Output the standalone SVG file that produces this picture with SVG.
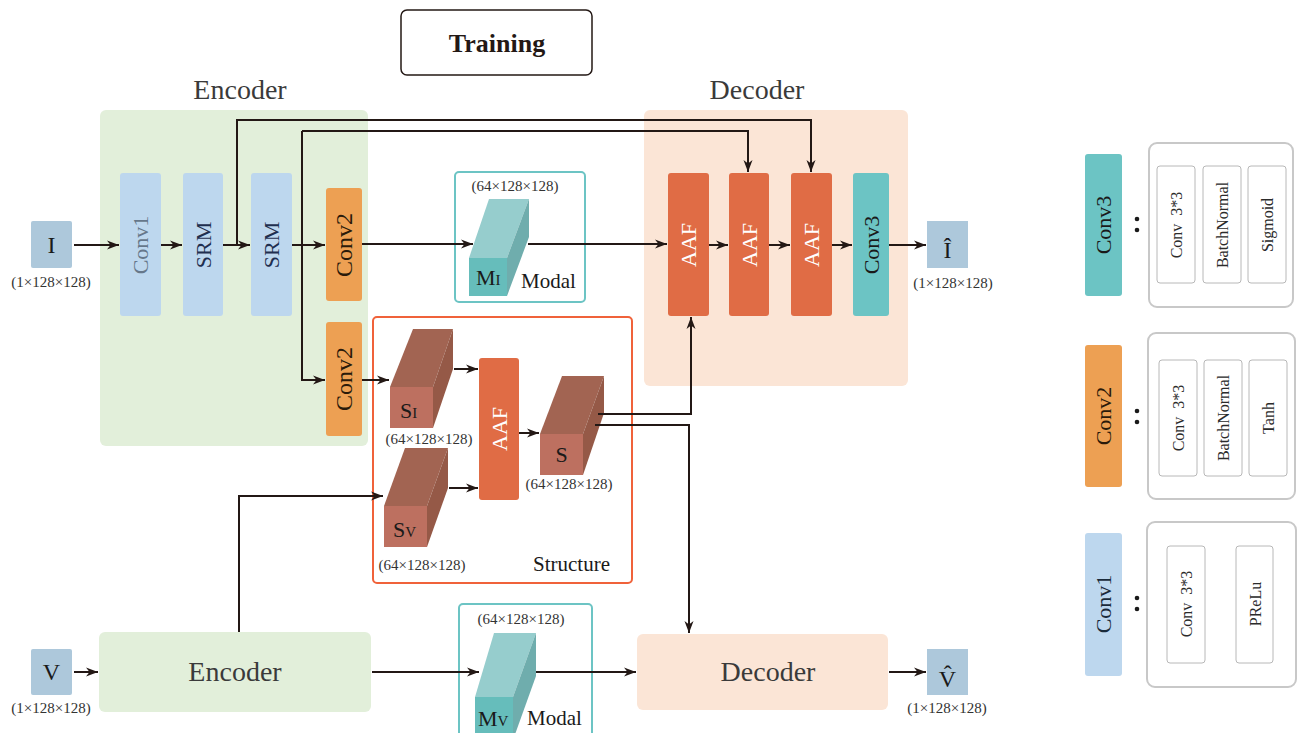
<svg xmlns="http://www.w3.org/2000/svg" width="1300" height="733" viewBox="0 0 1300 733">
<style>
text{font-family:"Liberation Serif","Times New Roman",serif}
.dim{font-size:15px;fill:#333333}
.big{font-size:28px;fill:#3a3a3a}
.blk{font-size:22px}
.dk{fill:#1a1a1a}
.c1{fill:#bdd7ee}
.c2{fill:#eda053}
.c3{fill:#6cc4c4}
.aaf{fill:#e06c45}
.io{fill:#adc8db}
.ln{fill:none;stroke:#231815;stroke-width:2}
.arr{marker-end:url(#ah)}
.wt{fill:#ffffff}
.leg{fill:none;stroke:#c8c8c8;stroke-width:2}
.inb{fill:#fff;stroke:#b8b8b8;stroke-width:1}
.lt{font-size:16px;fill:#2b2b2b}
</style>
<defs>
<marker id="ah" markerUnits="userSpaceOnUse" markerWidth="14" markerHeight="10" refX="12" refY="5" orient="auto">
<path d="M0,0.5 L12,5 L0,9.5 L3.5,5 z" fill="#231815"/>
</marker>
</defs>

<g id="training">
<rect x="401" y="10" width="191" height="65" rx="6" fill="#fff" stroke="#231815" stroke-width="1.5"/>
<text x="497" y="52" text-anchor="middle" font-size="26" font-weight="bold" fill="#231815">Training</text>
</g>

<g id="encoder-bg">
<rect x="100" y="110" width="268" height="336" rx="6" fill="#e2efda"/>
<text x="240" y="99" class="big" text-anchor="middle">Encoder</text>
</g>
<g id="decoder-bg">
<rect x="644" y="110" width="264" height="276" rx="6" fill="#fbe5d6"/>
<text x="757" y="99" class="big" text-anchor="middle">Decoder</text>
</g>

<g id="input-I">
<rect x="31" y="221" width="41" height="47" rx="2" class="io"/>
<text x="51.5" y="253" font-size="24" text-anchor="middle" class="dk">I</text>
<text x="51" y="287" class="dim" text-anchor="middle">(1×128×128)</text>
</g>

<g id="conv1">
<rect x="120" y="173" width="41" height="143" rx="3" class="c1"/>
<text transform="translate(148,245) rotate(-90)" class="blk" text-anchor="middle" fill="#66778a">Conv1</text>
</g>
<g id="srm1">
<rect x="183" y="173" width="40" height="143" rx="3" class="c1"/>
<text transform="translate(211,245) rotate(-90)" class="blk" text-anchor="middle" fill="#1f2f4f">SRM</text>
</g>
<g id="srm2">
<rect x="251" y="173" width="41" height="143" rx="3" class="c1"/>
<text transform="translate(279,245) rotate(-90)" class="blk" text-anchor="middle" fill="#1f2f4f">SRM</text>
</g>
<g id="conv2-top">
<rect x="326" y="188" width="36" height="113" rx="3" class="c2"/>
<text transform="translate(352,245) rotate(-90)" font-size="24" text-anchor="middle" fill="#2a1a0a">Conv2</text>
</g>
<g id="conv2-bottom">
<rect x="326" y="322" width="36" height="114" rx="3" class="c2"/>
<text transform="translate(352,379) rotate(-90)" font-size="24" text-anchor="middle" fill="#2a1a0a">Conv2</text>
</g>

<g id="modal-I">
<rect x="455" y="172" width="130" height="130" rx="4" fill="#fff" stroke="#6cc4c4" stroke-width="2"/>
<text x="515" y="191" class="dim" text-anchor="middle">(64×128×128)</text>
<polygon points="469,258 489,199 529,199 507,258" fill="#96cdcd"/>
<polygon points="507,258 529,199 529,237 507,296" fill="#6fadad"/>
<rect x="469" y="258" width="38" height="38" fill="#66bdbb"/>
<text x="476" y="285" class="dk"><tspan font-size="22">M</tspan><tspan font-size="15">I</tspan></text>
<text x="521" y="288" font-size="21" class="dk">Modal</text>
</g>

<g id="aaf1">
<rect x="668" y="173" width="41" height="143" rx="3" class="aaf"/>
<text transform="translate(696,245) rotate(-90)" class="blk wt" text-anchor="middle">AAF</text>
</g>
<g id="aaf2">
<rect x="729" y="173" width="40" height="143" rx="3" class="aaf"/>
<text transform="translate(757,245) rotate(-90)" class="blk wt" text-anchor="middle">AAF</text>
</g>
<g id="aaf3">
<rect x="791" y="173" width="41" height="143" rx="3" class="aaf"/>
<text transform="translate(819,245) rotate(-90)" class="blk wt" text-anchor="middle">AAF</text>
</g>
<g id="conv3">
<rect x="853" y="173" width="36" height="143" rx="3" class="c3"/>
<text transform="translate(879,245) rotate(-90)" class="blk dk" text-anchor="middle">Conv3</text>
</g>
<g id="output-Ihat">
<rect x="927" y="221" width="41" height="47" class="io"/>
<text x="947.5" y="258" font-size="24" text-anchor="middle" class="dk">Î</text>
<text x="953" y="288" class="dim" text-anchor="middle">(1×128×128)</text>
</g>

<g id="structure">
<rect x="373" y="317" width="259" height="266" rx="4" fill="#fff" stroke="#f0623a" stroke-width="2"/>
<text x="533" y="571" font-size="21" class="dk">Structure</text>
</g>
<g id="S-I">
<polygon points="390,387 413,329 453,329 433,387" fill="#a26452"/>
<polygon points="433,387 453,329 453,369 433,428" fill="#955947"/>
<rect x="390" y="387" width="43" height="41" fill="#bd7060"/>
<text x="400" y="418" class="dk"><tspan font-size="22">S</tspan><tspan font-size="15">I</tspan></text>
<text x="429" y="444" class="dim" text-anchor="middle">(64×128×128)</text>
</g>
<g id="S-V">
<polygon points="384,506 405,448 448,448 427,506" fill="#a26452"/>
<polygon points="427,506 448,448 448,488 427,547" fill="#955947"/>
<rect x="384" y="506" width="43" height="41" fill="#bd7060"/>
<text x="393" y="537" class="dk"><tspan font-size="22">S</tspan><tspan font-size="15">V</tspan></text>
<text x="422" y="570" class="dim" text-anchor="middle">(64×128×128)</text>
</g>
<g id="aaf-s">
<rect x="479" y="358" width="40" height="142" rx="3" class="aaf"/>
<text transform="translate(507,429) rotate(-90)" class="blk wt" text-anchor="middle">AAF</text>
</g>
<g id="S">
<polygon points="540,434 562,376 604,376 583,434" fill="#a26452"/>
<polygon points="583,434 604,376 604,413 583,475" fill="#955947"/>
<rect x="540" y="434" width="43" height="41" fill="#bd7060"/>
<text x="561.5" y="462" font-size="22" text-anchor="middle" class="dk">S</text>
<text x="569" y="489" class="dim" text-anchor="middle">(64×128×128)</text>
</g>

<g id="input-V">
<rect x="31" y="649" width="41" height="46" rx="2" class="io"/>
<text x="51.5" y="680" font-size="24" text-anchor="middle" class="dk">V</text>
<text x="51" y="713" class="dim" text-anchor="middle">(1×128×128)</text>
</g>
<g id="encoder-v">
<rect x="99" y="632" width="272" height="80" rx="6" fill="#e2efda"/>
<text x="235" y="681" class="big" text-anchor="middle">Encoder</text>
</g>
<g id="modal-V">
<rect x="459" y="604" width="133" height="140" rx="4" fill="#fff" stroke="#6cc4c4" stroke-width="2"/>
<text x="521" y="624" class="dim" text-anchor="middle">(64×128×128)</text>
<polygon points="475,697 494,633 536,633 513,697" fill="#96cdcd"/>
<polygon points="513,697 536,633 536,676 513,740" fill="#6fadad"/>
<rect x="475" y="697" width="38" height="43" fill="#66bdbb"/>
<text x="478" y="726" class="dk"><tspan font-size="22">M</tspan><tspan font-size="15">V</tspan></text>
<text x="527" y="725" font-size="21" class="dk">Modal</text>
</g>
<g id="decoder-v">
<rect x="637" y="634" width="251" height="76" rx="6" fill="#fbe5d6"/>
<text x="768" y="681" class="big" text-anchor="middle">Decoder</text>
</g>
<g id="output-Vhat">
<rect x="927" y="649" width="41" height="46" class="io"/>
<text x="947.5" y="687" font-size="24" text-anchor="middle" class="dk">V̂</text>
<text x="947" y="713" class="dim" text-anchor="middle">(1×128×128)</text>
</g>

<g id="legend-conv3">
<rect x="1085" y="154" width="37" height="142" rx="3" class="c3"/>
<text transform="translate(1111,225) rotate(-90)" class="blk dk" text-anchor="middle">Conv3</text>
<circle cx="1137" cy="219" r="2.3" fill="#1a1a1a"/><circle cx="1137" cy="230" r="2.3" fill="#1a1a1a"/>
<rect x="1149" y="143" width="144" height="164" rx="8" class="leg"/>
<rect x="1157" y="166" width="38" height="117" rx="3" class="inb"/>
<rect x="1203" y="166" width="38" height="117" rx="3" class="inb"/>
<rect x="1248" y="166" width="38" height="117" rx="3" class="inb"/>
<text transform="translate(1182,225) rotate(-90)" class="lt" text-anchor="middle" xml:space="preserve">Conv  3*3</text>
<text transform="translate(1228,225) rotate(-90)" class="lt" text-anchor="middle">BatchNormal</text>
<text transform="translate(1273,225) rotate(-90)" class="lt" text-anchor="middle">Sigmoid</text>
</g>
<g id="legend-conv2">
<rect x="1085" y="345" width="37" height="142" rx="3" class="c2"/>
<text transform="translate(1111,416) rotate(-90)" class="blk" text-anchor="middle" fill="#2a1a0a">Conv2</text>
<circle cx="1137" cy="411" r="2.3" fill="#1a1a1a"/><circle cx="1137" cy="422" r="2.3" fill="#1a1a1a"/>
<rect x="1148" y="333" width="147" height="166" rx="8" class="leg"/>
<rect x="1159" y="360" width="38" height="116" rx="3" class="inb"/>
<rect x="1204" y="360" width="38" height="116" rx="3" class="inb"/>
<rect x="1249" y="360" width="38" height="116" rx="3" class="inb"/>
<text transform="translate(1184,418) rotate(-90)" class="lt" text-anchor="middle" xml:space="preserve">Conv  3*3</text>
<text transform="translate(1229,418) rotate(-90)" class="lt" text-anchor="middle">BatchNormal</text>
<text transform="translate(1274,418) rotate(-90)" class="lt" text-anchor="middle">Tanh</text>
</g>
<g id="legend-conv1">
<rect x="1085" y="533" width="37" height="143" rx="3" class="c1"/>
<text transform="translate(1111,604) rotate(-90)" class="blk" text-anchor="middle" fill="#1a2a3a">Conv1</text>
<circle cx="1137" cy="598" r="2.3" fill="#1a1a1a"/><circle cx="1137" cy="609" r="2.3" fill="#1a1a1a"/>
<rect x="1147" y="522" width="149" height="165" rx="8" class="leg"/>
<rect x="1167" y="546" width="38" height="117" rx="3" class="inb"/>
<rect x="1236" y="546" width="37" height="117" rx="3" class="inb"/>
<text transform="translate(1192,604) rotate(-90)" class="lt" text-anchor="middle" xml:space="preserve">Conv  3*3</text>
<text transform="translate(1261,604) rotate(-90)" class="lt" text-anchor="middle">PReLu</text>
</g>

<g id="connectors">
<path class="ln arr" d="M74,245 H119"/>
<path class="ln arr" d="M161,245 H182"/>
<path class="ln arr" d="M223,245 H250"/>
<path class="ln arr" d="M292,245 H325"/>
<path class="ln arr" d="M362,244 H473"/>
<path class="ln arr" d="M528,244 H667"/>
<path class="ln arr" d="M709,245 H728"/>
<path class="ln arr" d="M769,245 H790"/>
<path class="ln arr" d="M832,245 H852"/>
<path class="ln arr" d="M889,245 H926"/>
<path class="ln arr" d="M237,245 V120 H811 V172"/>
<path class="ln arr" d="M302,131 H748 V172"/>
<path class="ln arr" d="M302,131 V380 H325"/>
<path class="ln arr" d="M362,380 H389"/>
<path class="ln arr" d="M454,369 H478"/>
<path class="ln arr" d="M449,488 H478"/>
<path class="ln arr" d="M519,433 H539"/>
<path class="ln arr" d="M598,414 H691 V317"/>
<path class="ln arr" d="M595,425 H689 V633"/>
<path class="ln arr" d="M74,672 H98"/>
<path class="ln arr" d="M239,632 V496 H383"/>
<path class="ln arr" d="M372,672 H479"/>
<path class="ln arr" d="M536,672 H636"/>
<path class="ln arr" d="M889,672 H926"/>
</g>
</svg>
